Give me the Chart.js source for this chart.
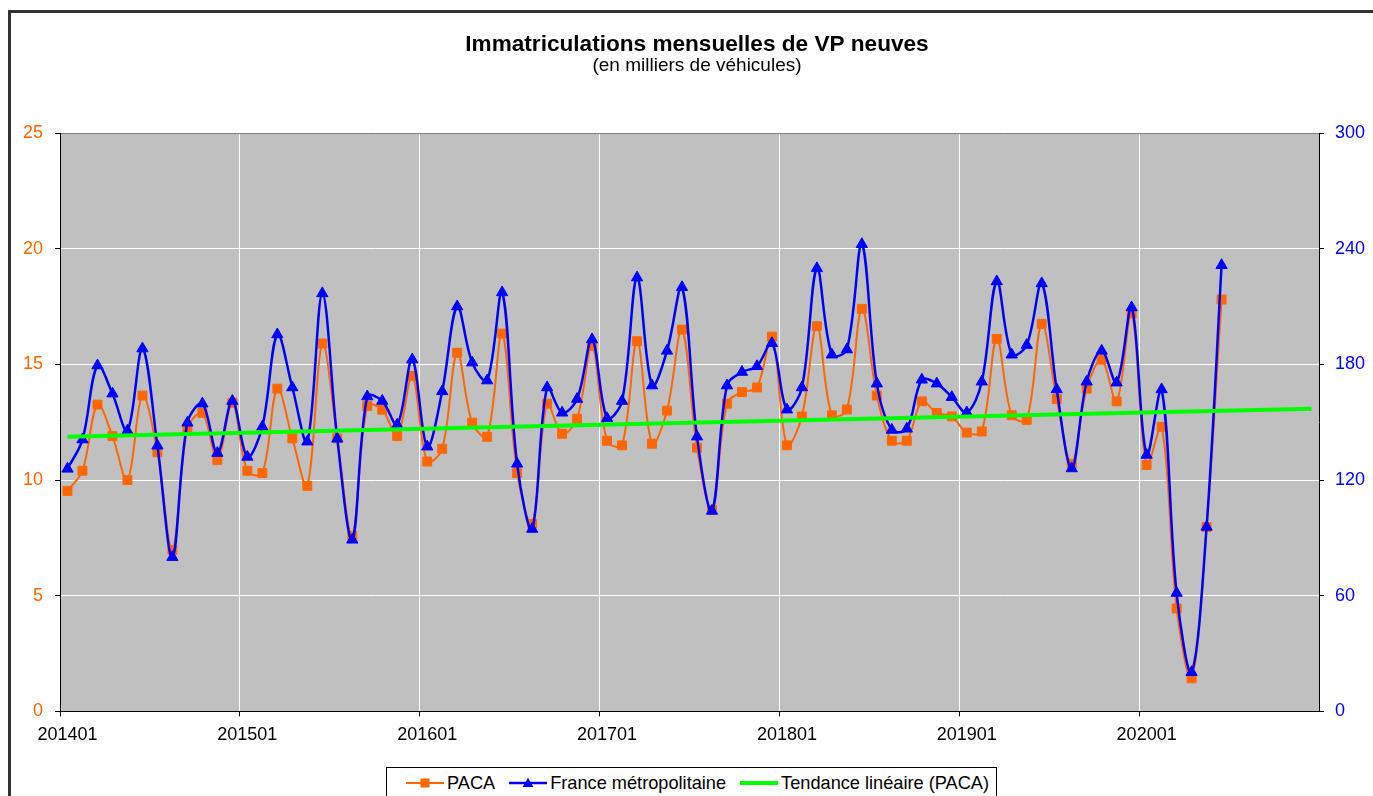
<!DOCTYPE html>
<html>
<head>
<meta charset="utf-8">
<script src="https://cdn.jsdelivr.net/npm/chart.js@4"></script>
<style>
  html, body { margin: 0; padding: 0; background: #fff; overflow: hidden; width: 1373px; height: 796px; }
  #wrap { position: relative; width: 1373px; height: 796px; }
  #frame { position: absolute; left: 8px; top: 10px; width: 1420px; height: 840px; border: 3px solid #333; box-sizing: border-box; pointer-events: none; }
  #c { position: absolute; left: 0; top: 0; }
  #legend { position: absolute; left: 386px; top: 767px; height: 40px; border: 1px solid #000; background: #fff;
            display: flex; align-items: flex-start; padding: 4px 7px 0 19px; box-sizing: border-box;
            font-family: "Liberation Sans", Arial, sans-serif; font-size: 18.2px; color: #000; }
  .item { display: flex; align-items: center; height: 22px; }
  .item svg { display: block; margin-right: 3px; }
  .item + .item { margin-left: 14px; }
</style>
</head>
<body>
<div id="wrap">
  <canvas id="c" width="1373" height="796"></canvas>
  <div id="frame"></div>
  <div id="legend"></div>
</div>
<script>
// ---- Data ----
const categories = [
  '201401','201402','201403','201404','201405','201406','201407','201408','201409','201410','201411','201412',
  '201501','201502','201503','201504','201505','201506','201507','201508','201509','201510','201511','201512',
  '201601','201602','201603','201604','201605','201606','201607','201608','201609','201610','201611','201612',
  '201701','201702','201703','201704','201705','201706','201707','201708','201709','201710','201711','201712',
  '201801','201802','201803','201804','201805','201806','201807','201808','201809','201810','201811','201812',
  '201901','201902','201903','201904','201905','201906','201907','201908','201909','201910','201911','201912',
  '202001','202002','202003','202004','202005','202006','202007','202008','202009','202010','202011','202012'
];
// PACA (left axis, thousands)
const pacaValues = [
  9.53, 10.4, 13.26, 11.9, 10.0, 13.65, 11.2, 6.98, 12.2, 12.9, 10.87, 13.34,
  10.4, 10.3, 13.95, 11.8, 9.75, 15.9, 11.8, 7.58, 13.2, 13.04, 11.9, 14.5,
  10.8, 11.35, 15.5, 12.48, 11.87, 16.33, 10.3, 8.1, 13.3, 12.0, 12.65, 15.8,
  11.7, 11.5, 16.0, 11.57, 13.0, 16.5, 11.4, 8.7, 13.3, 13.8, 14.0, 16.2,
  11.5, 12.75, 16.65, 12.8, 13.05, 17.4, 13.65, 11.7, 11.7, 13.4, 12.9, 12.75,
  12.05, 12.1, 16.1, 12.8, 12.6, 16.75, 13.5, 10.7, 13.95, 15.2, 13.4, 17.2,
  10.65, 12.3, 4.45, 1.43, 7.97, 17.8
];
// France métropolitaine (right axis, thousands)
const franceValues = [
  125.8, 141, 179.4, 164.8, 145.6, 188.2, 137.8, 80, 149.7, 159.6, 134, 161,
  132, 147.7, 195.5, 168, 139.9, 216.8, 141.4, 89, 163.3, 161, 148.7, 182.5,
  137.3, 166, 210, 180.9, 171.6, 217.3, 128.4, 94.6, 168, 154.9, 162, 192.9,
  152, 161, 225, 169, 187, 220, 142.5, 104, 169, 176, 179, 191,
  156.5, 168, 229.8, 185, 187.7, 242.3, 170, 146, 146.6, 172, 170, 163,
  155, 171, 223, 185, 190, 222, 167, 126, 171, 187, 170.5, 209.5,
  133, 167, 61.4, 20.3, 95.7, 231.4
];
// Linear trend (PACA) end points
const trendStart = 11.87;
const trendEnd = 13.08;
const leftTicks = [0, 5, 10, 15, 20, 25];
const rightTicks = [0, 60, 120, 180, 240, 300];

const ORANGE = '#FF6600', BLUE = '#0000FF', GREEN = '#00FF00';
Chart.defaults.font.family = '"Liberation Sans", Arial, sans-serif';
Chart.defaults.color = '#000';

const plotBg = {
  id: 'plotBg',
  beforeDraw(chart) {
    const {ctx, chartArea: a} = chart;
    ctx.save();
    ctx.fillStyle = '#C0C0C0';
    ctx.fillRect(a.left, a.top, a.right - a.left, a.bottom - a.top);
    ctx.restore();
  }
};

const chart = new Chart(document.getElementById('c'), {
  type: 'line',
  data: {
    labels: categories,
    datasets: [
      {
        label: 'PACA', data: pacaValues, yAxisID: 'y', order: 2,
        borderColor: ORANGE, backgroundColor: ORANGE, borderWidth: 2,
        pointStyle: 'rect', pointRadius: 6.3, pointBorderWidth: 1, pointBackgroundColor: ORANGE, pointBorderColor: ORANGE,
        tension: 0.35, fill: false
      },
      {
        label: 'France métropolitaine', data: franceValues, yAxisID: 'y2', order: 1,
        borderColor: BLUE, backgroundColor: BLUE, borderWidth: 2.5,
        pointStyle: 'triangle', pointRadius: 6.5, pointBorderWidth: 1, pointBackgroundColor: BLUE, pointBorderColor: BLUE,
        tension: 0.35, fill: false
      },
      {
        label: 'Tendance linéaire (PACA)',
        data: [{x: categories[0], y: trendStart}, {x: categories[categories.length - 1], y: trendEnd}],
        yAxisID: 'y', order: 0,
        borderColor: GREEN, backgroundColor: GREEN, borderWidth: 4, pointRadius: 0, tension: 0, fill: false
      }
    ]
  },
  options: {
    responsive: false,
    animation: false,
    layout: { padding: { left: 23, right: 2, top: 0, bottom: 42 } },
    plugins: {
      legend: { display: false },
      tooltip: { enabled: false },
      title: {
        display: true, text: 'Immatriculations mensuelles de VP neuves', color: '#000',
        font: { size: 22.6, weight: 'bold', lineHeight: 1 }, padding: { top: 33, bottom: 1 }
      },
      subtitle: {
        display: true, text: '(en milliers de véhicules)', color: '#000',
        font: { size: 19, weight: 'normal', lineHeight: 1 }, padding: { top: 0, bottom: 57.4 }
      }
    },
    scales: {
      x: {
        type: 'category', offset: true,
        grid: {
          offset: true, drawTicks: true, tickLength: 5,
          color: c => (c.index % 12 === 0 && c.index > 0) ? '#FFFFFF' : 'rgba(0,0,0,0)',
          tickColor: c => (c.index % 12 === 0) ? '#000' : 'rgba(0,0,0,0)',
          lineWidth: 1
        },
        border: { color: '#000', width: 1 },
        ticks: {
          autoSkip: false, maxRotation: 0, minRotation: 0, padding: 8, color: '#000',
          font: { size: 18 },
          callback: function (v, i) { return i % 12 === 0 ? categories[i] : ''; }
        }
      },
      y: {
        position: 'left', min: 0, max: 25,
        afterBuildTicks: s => { s.ticks = leftTicks.map(v => ({ value: v })); },
        afterFit: s => { s.width = 37; },
        grid: {
          tickLength: 5,
          color: c => c.tick && c.tick.value === 25 ? '#808080' : (c.tick && c.tick.value === 0 ? 'rgba(0,0,0,0)' : '#FFFFFF'),
          tickColor: '#000', lineWidth: 1
        },
        border: { color: '#000', width: 1 },
        ticks: { color: ORANGE, font: { size: 18 }, padding: 12 }
      },
      y2: {
        position: 'right', min: 0, max: 300,
        afterBuildTicks: s => { s.ticks = rightTicks.map(v => ({ value: v })); },
        afterFit: s => { s.width = 52; },
        grid: { drawOnChartArea: false, tickLength: 5, tickColor: '#000' },
        border: { color: '#000', width: 1 },
        ticks: { color: BLUE, font: { size: 18 }, padding: 11 }
      }
    }
  },
  plugins: [plotBg]
});

// HTML legend built from the datasets
(function buildLegend() {
  const el = document.getElementById('legend');
  chart.data.datasets.forEach(ds => {
    const item = document.createElement('div');
    item.className = 'item';
    const w = 38, h = 14;
    let marker = '';
    if (ds.pointStyle === 'rect') {
      marker = `<rect x="${w/2-4.5}" y="${h/2-4.5}" width="9" height="9" fill="${ds.borderColor}"/>`;
    } else if (ds.pointStyle === 'triangle') {
      marker = `<polygon points="${w/2},${h/2-5} ${w/2+5.5},${h/2+4} ${w/2-5.5},${h/2+4}" fill="${ds.borderColor}"/>`;
    }
    item.innerHTML = `<svg width="${w}" height="${h}"><line x1="0" y1="${h/2}" x2="${w}" y2="${h/2}" stroke="${ds.borderColor}" stroke-width="${ds.borderWidth}"/>${marker}</svg><span>${ds.label}</span>`;
    el.appendChild(item);
  });
})();
</script>
</body>
</html>
